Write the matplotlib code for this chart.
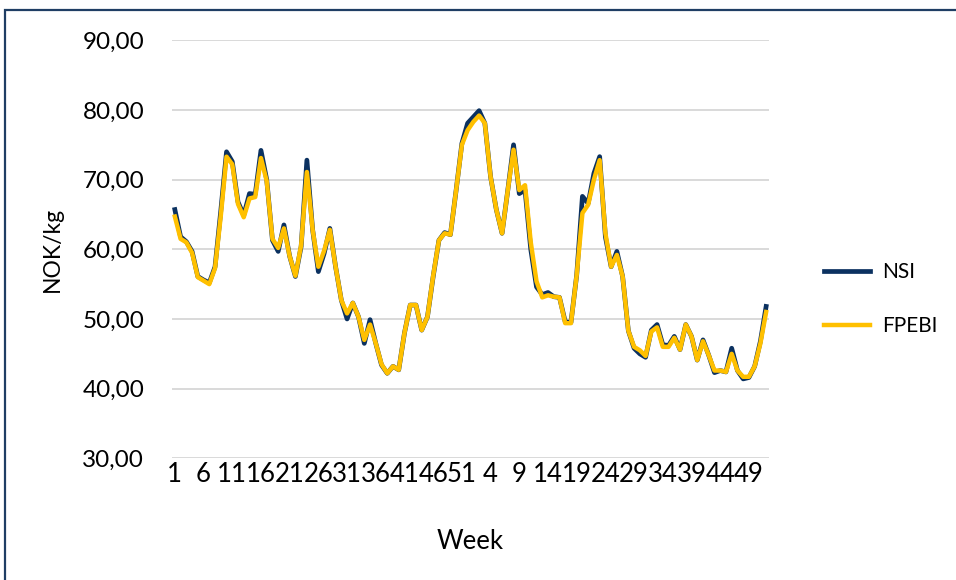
import matplotlib.pyplot as plt
import matplotlib.ticker as mticker
from matplotlib.patches import Rectangle

# weekly prices, two years of 52 weeks
weeks = list(range(1, 53)) + list(range(1, 53))

nsi = [65.7, 61.8, 61.1, 59.7, 56.1, 55.6, 55.2, 57.5, 65.5, 74.0,
       72.6, 66.8, 64.9, 68.0, 67.9, 74.2, 70.0, 61.3, 59.7, 63.5,
       59.0, 56.1, 60.4, 72.8, 62.8, 56.8, 59.4, 63.0, 57.5, 52.7,
       50.0, 52.3, 50.3, 46.5, 49.9, 46.5, 43.4, 42.2, 43.2, 42.7,
       48.0, 52.0, 52.0, 48.4, 50.3, 56.1, 61.3, 62.4, 62.1, 68.5,
       75.2, 78.1, 79.0, 79.9, 78.1, 70.4, 65.7, 62.3, 68.5, 75.0,
       68.0, 68.5, 60.0, 54.6, 53.5, 53.8, 53.2, 53.1, 49.6, 49.5,
       56.3, 67.6, 66.6, 70.9, 73.3, 61.8, 57.5, 59.7, 56.1, 48.3,
       45.8, 45.0, 44.5, 48.4, 49.2, 46.3, 46.2, 47.5, 45.6, 49.2,
       47.5, 44.1, 47.0, 44.8, 42.3, 42.6, 42.4, 45.8, 42.6, 41.4,
       41.6, 43.2, 46.8, 51.8]

fpebi = [64.7, 61.5, 61.0, 59.5, 56.0, 55.5, 55.0, 57.3, 64.8, 73.3,
         72.2, 66.5, 64.6, 67.3, 67.5, 73.1, 69.8, 61.5, 60.2, 63.0,
         59.0, 56.2, 60.6, 71.1, 62.8, 57.5, 59.8, 62.8, 57.5, 52.7,
         50.8, 52.3, 50.3, 47.0, 49.2, 46.5, 43.5, 42.2, 43.2, 42.7,
         48.0, 52.0, 52.0, 48.4, 50.3, 56.2, 61.3, 62.3, 62.1, 68.5,
         75.0, 77.1, 78.3, 79.2, 78.1, 70.4, 65.7, 62.3, 68.5, 74.3,
         68.5, 69.2, 61.0, 55.4, 53.1, 53.4, 53.2, 53.1, 49.4, 49.4,
         56.3, 65.2, 66.4, 70.0, 72.8, 62.3, 57.5, 59.2, 56.1, 48.3,
         46.0, 45.5, 44.7, 48.2, 48.8, 46.0, 46.0, 47.3, 45.6, 49.2,
         47.5, 44.1, 46.8, 44.8, 42.6, 42.6, 42.4, 45.0, 42.6, 41.7,
         41.7, 43.2, 46.5, 51.0]

plt.rcParams["font.family"] = ["Lato", "DejaVu Sans"]

fig = plt.figure(figsize=(9.56, 5.80), dpi=100)
ax = fig.add_axes([0.1799, 0.2098, 0.6245, 0.7207])

x = list(range(1, len(nsi) + 1))
ax.plot(x, nsi, color="#0b3160", lw=3.4, label="NSI", zorder=3)
ax.plot(x, fpebi, color="#ffc000", lw=3.2, label="FPEBI", zorder=4)

ax.set_xlim(0.5, len(nsi) + 0.5)
ax.set_ylim(30, 90)
ax.set_yticks(range(30, 91, 10))
ax.yaxis.set_major_formatter(mticker.FuncFormatter(lambda v, _: f"{v:.2f}".replace(".", ",")))
ax.set_xticks(x[::5])
ax.set_xticklabels([str(w) for w in weeks[::5]])
ax.grid(axis="y", color="#d9d9d9", lw=1.4)
ax.set_axisbelow(True)
for s in ax.spines.values():
    s.set_visible(False)
ax.tick_params(axis="both", length=0, labelsize=17.5, labelcolor="black")
ax.tick_params(axis="x", labelsize=18.5, pad=3)
ax.tick_params(axis="y", pad=20)

ax.set_xlabel("Week", fontsize=18.5, labelpad=30)
ax.set_ylabel("NOK/kg", fontsize=16.5, labelpad=14)

ax.legend(loc="center left", bbox_to_anchor=(0.842, 0.484), bbox_transform=fig.transFigure,
          frameon=False, fontsize=15, handlelength=2.2, labelspacing=1.65, handletextpad=0.6)

# chart area border (cropped on right/bottom)
fig.patches.append(Rectangle((5 / 956, -0.1), 1.2, 1 - 10 / 580 + 0.1, transform=fig.transFigure,
                             fill=False, ec="#1f3e64", lw=1.6))

plt.savefig("out.png", dpi=100)
